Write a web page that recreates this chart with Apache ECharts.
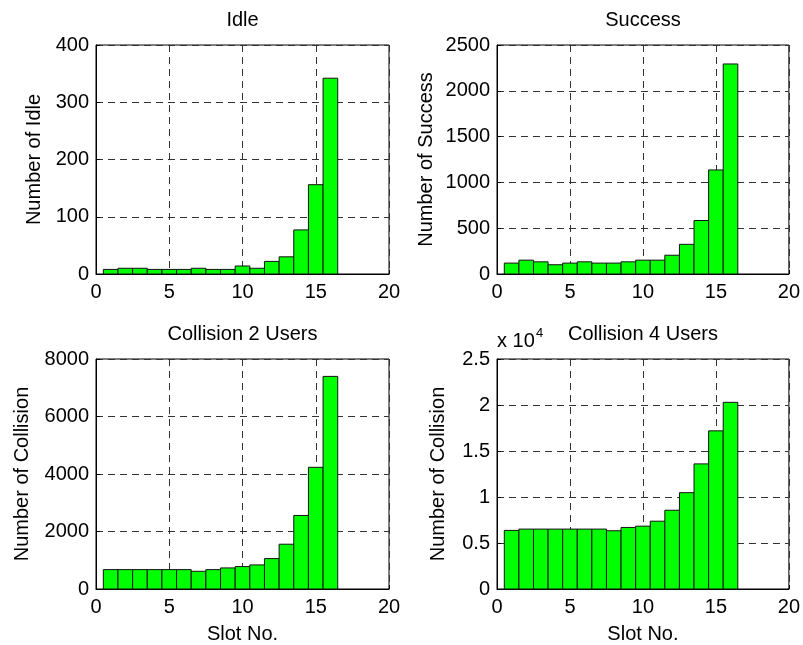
<!DOCTYPE html>
<html><head><meta charset="utf-8">
<script src="https://cdn.jsdelivr.net/npm/echarts@6/dist/echarts.min.js"></script>
<style>html,body{margin:0;padding:0;background:#fff}#c{width:803px;height:645px}</style>
</head><body><div id="c"></div>
<script>
const slots = [1,2,3,4,5,6,7,8,9,10,11,12,13,14,15,16];
const idle = [8,10,10,8,8,8,10,8,8,14,10,22,30,77,156,342];
const success = [119,151,133,101,119,133,119,119,133,151,151,205,324,584,1136,2293];
const collision2 = [674,674,674,674,674,674,616,674,733,779,837,1058,1558,2558,4233,7395];
const collision4 = [6370,6510,6510,6510,6510,6510,6510,6330,6690,6830,7370,8560,10470,13600,17190,20290];
const titles = ['Idle','Success','Collision 2 Users','Collision 4 Users'];
const yNames = ['Number of Idle','Number of Success','Number of Collision','Number of Collision'];
const xName = 'Slot No.';
const yMax = [400, 2500, 8000, 25000];
const yStep = [100, 500, 2000, 5000];

const FONT = 'Liberation Sans, Arial, Helvetica, sans-serif';
const FS = 20;
const grids = [
  {left:96, top:45, width:293, height:229},
  {left:497, top:45, width:292, height:229},
  {left:96, top:359, width:293, height:230},
  {left:497, top:359, width:292, height:231}
];
const nameGaps = [52, 61, 64, 49];
const seriesData = [idle, success, collision2, collision4];

const option = {
  backgroundColor:'#fff',
  animation:false,
  title: titles.map((t,i)=>({
    text:t, left: grids[i].left + grids[i].width/2, top: grids[i].top - 35, textAlign:'center', padding:0,
    textStyle:{fontFamily:FONT, fontSize:FS, fontWeight:'normal', color:'#000'}
  })),
  grid: grids.map(g=>Object.assign({show:true, borderColor:'#000', borderWidth:1, backgroundColor:'transparent'}, g)),
  xAxis: grids.map((g,i)=>({
    gridIndex:i, type:'value', min:0, max:20, interval:5,
    axisLine:{onZero:false, lineStyle:{color:'#000', width:1}},
    axisTick:{inside:true, length:4, lineStyle:{color:'#000'}},
    axisLabel:{color:'#000', fontSize:FS, fontFamily:FONT, margin:8},
    splitLine:{show:true, lineStyle:{color:'#333', width:1, type:[7,5]}},
    name: i>=2 ? xName : '', nameLocation:'middle', nameGap:35,
    nameTextStyle:{color:'#000', fontSize:FS, fontFamily:FONT}
  })),
  yAxis: grids.map((g,i)=>({
    gridIndex:i, type:'value', min:0, max:yMax[i], interval:yStep[i],
    axisLine:{show:true, onZero:false, lineStyle:{color:'#000', width:1}},
    axisTick:{show:true, inside:true, length:4, lineStyle:{color:'#000'}},
    axisLabel:{color:'#000', fontSize:FS, fontFamily:FONT, margin:7,
      formatter: i===3 ? (v)=>String(v/10000) : (v)=>String(v)},
    splitLine:{show:true, lineStyle:{color:'#333', width:1, type:[7,5]}},
    name: yNames[i], nameLocation:'middle', nameGap:nameGaps[i], nameRotate:90,
    nameTextStyle:{color:'#000', fontSize:FS, fontFamily:FONT}
  })),
  graphic: [
    {type:'text', x:497, y:341, style:{text:'x 10', font:FS+'px '+FONT, fill:'#000', align:'left', verticalAlign:'middle'}},
    {type:'text', x:536, y:333, style:{text:'4', font:'13px '+FONT, fill:'#000', align:'left', verticalAlign:'middle'}}
  ],
  series: seriesData.map((vals,i)=>({
    type:'custom', xAxisIndex:i, yAxisIndex:i,
    encode:{x:0, y:1},
    data: slots.map((s,k)=>[s, vals[k]]),
    renderItem:(params, api)=>{
      const x = api.value(0), y = api.value(1);
      const p0 = api.coord([x-0.5, y]);
      const p1 = api.coord([x+0.5, 0]);
      return {type:'rect', shape:{x:p0[0], y:p0[1], width:p1[0]-p0[0], height:p1[1]-p0[1]},
        style:{fill:'#00ff00', stroke:'#111', lineWidth:1}};
    }
  }))
};
const chart = echarts.init(document.getElementById('c'), null, {renderer:'canvas'});
chart.setOption(option);
</script></body></html>
